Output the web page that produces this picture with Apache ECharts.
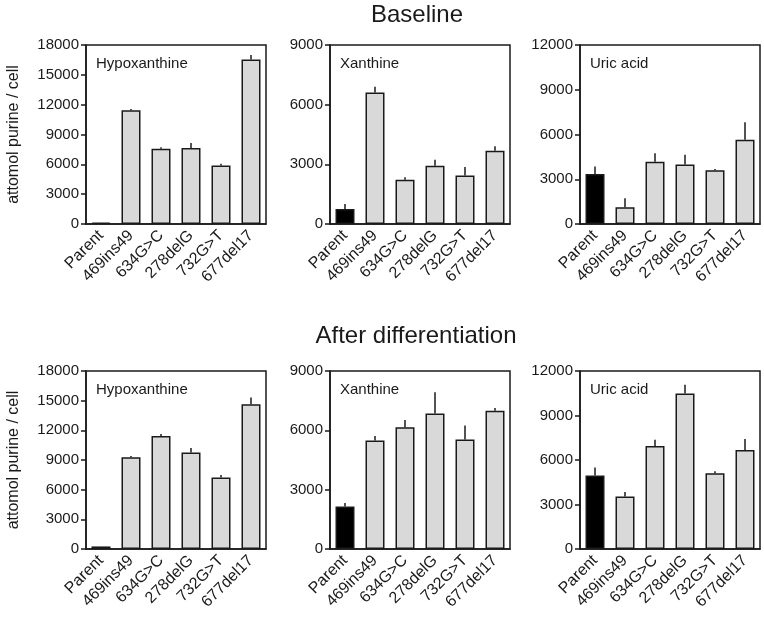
<!DOCTYPE html>
<html><head><meta charset="utf-8">
<script src="https://cdn.jsdelivr.net/npm/echarts@6/dist/echarts.min.js"></script>
<style>html,body{margin:0;padding:0;background:#fff}#c{width:764px;height:621px}</style>
</head><body><div id="c"></div>
<script>
var categories = ['Parent','469ins49','634G>C','278delG','732G>T','677del17'];
var panelNames = ['Hypoxanthine','Xanthine','Uric acid'];
var rowTitles = ['Baseline','After differentiation'];
var yMax = [18000, 9000, 12000];
var yInterval = [3000, 3000, 3000];

var baseHypo    = [150, 11450, 7570, 7640, 5890, 16550];
var baseHypoErr = [0, 120, 150, 500, 170, 440];
var baseXan     = [760, 6610, 2220, 2930, 2440, 3680];
var baseXanErr  = [250, 290, 135, 300, 420, 235];
var baseUric    = [3360, 1120, 4170, 3990, 3610, 5650];
var baseUricErr = [490, 600, 580, 650, 70, 1170];

var diffHypo    = [260, 9270, 11420, 9770, 7220, 14640];
var diffHypoErr = [0, 130, 200, 440, 270, 670];
var diffXan     = [2150, 5490, 6150, 6850, 5540, 6990];
var diffXanErr  = [170, 220, 370, 1075, 705, 135];
var diffUric    = [4950, 3540, 6940, 10480, 5100, 6670];
var diffUricErr = [540, 310, 425, 600, 135, 740];

var panelValues = [baseHypo, baseXan, baseUric, diffHypo, diffXan, diffUric];
var panelErrors = [baseHypoErr, baseXanErr, baseUricErr, diffHypoErr, diffXanErr, diffUricErr];

var FONT = "'Liberation Sans', Arial, sans-serif";
var INK = '#1a1a1a';
var lefts = [86, 330, 580];
var tops = [45, 371];
var heights = [179, 178];

var grids = [], xAxes = [], yAxes = [], series = [], titles = [];
for (var p = 0; p < 6; p++) {
  var row = Math.floor(p / 3), col = p % 3;
  grids.push({left: lefts[col], top: tops[row], width: 180, height: heights[row],
    show: true, borderColor: INK, borderWidth: 1.5, backgroundColor: 'transparent'});
  xAxes.push({type: 'category', gridIndex: p, data: categories,
    axisLine: {lineStyle: {color: INK, width: 1.5}},
    axisTick: {alignWithLabel: true, length: 5, lineStyle: {color: INK, width: 1.5}},
    axisLabel: {rotate: 45, color: INK, fontSize: 16, fontFamily: FONT, margin: 9, interval: 0}});
  var ya = {type: 'value', gridIndex: p, min: 0, max: yMax[col], interval: yInterval[col],
    splitLine: {show: false},
    axisLine: {show: true, lineStyle: {color: INK, width: 1.5}},
    axisTick: {show: true, length: 5, lineStyle: {color: INK, width: 1.5}},
    axisLabel: {color: INK, fontSize: 15, fontFamily: FONT, margin: 7,
      formatter: function (v) { return String(v); }}};
  if (col === 0) {
    ya.name = 'attomol purine / cell';
    ya.nameLocation = 'middle';
    ya.nameGap = 64;
    ya.nameTextStyle = {color: INK, fontSize: 16, fontFamily: FONT};
  }
  yAxes.push(ya);
  var vals = panelValues[p];
  series.push({type: 'bar', xAxisIndex: p, yAxisIndex: p, barWidth: 19,
    data: vals.map(function (v, i) {
      return {value: v, itemStyle: {color: i === 0 ? '#000' : '#d9d9d9'}};
    }),
    itemStyle: {borderColor: INK, borderWidth: 1.5}, z: 2});
  series.push({type: 'custom', xAxisIndex: p, yAxisIndex: p, z: 3,
    data: vals.map(function (v, i) { return [i, v, v + panelErrors[p][i]]; }),
    renderItem: function (params, api) {
      var a = api.coord([api.value(0), api.value(1)]);
      var b = api.coord([api.value(0), api.value(2)]);
      return {type: 'line', shape: {x1: a[0], y1: a[1], x2: b[0], y2: b[1]},
        style: {stroke: INK, lineWidth: 1.5}};
    }});
  titles.push({text: panelNames[col], left: lefts[col] + 10, top: tops[row] + 11, padding: 0,
    textStyle: {fontSize: 15, fontWeight: 'normal', color: INK, fontFamily: FONT}});
}
titles.push({text: rowTitles[0], left: 417, top: 3, textAlign: 'center', padding: 0,
  textStyle: {fontSize: 24, fontWeight: 'normal', color: INK, fontFamily: FONT}});
titles.push({text: rowTitles[1], left: 416, top: 324, textAlign: 'center', padding: 0,
  textStyle: {fontSize: 24, fontWeight: 'normal', color: INK, fontFamily: FONT}});

var chart = echarts.init(document.getElementById('c'));
chart.setOption({animation: false, backgroundColor: '#fff', title: titles,
  grid: grids, xAxis: xAxes, yAxis: yAxes, series: series});
</script></body></html>
